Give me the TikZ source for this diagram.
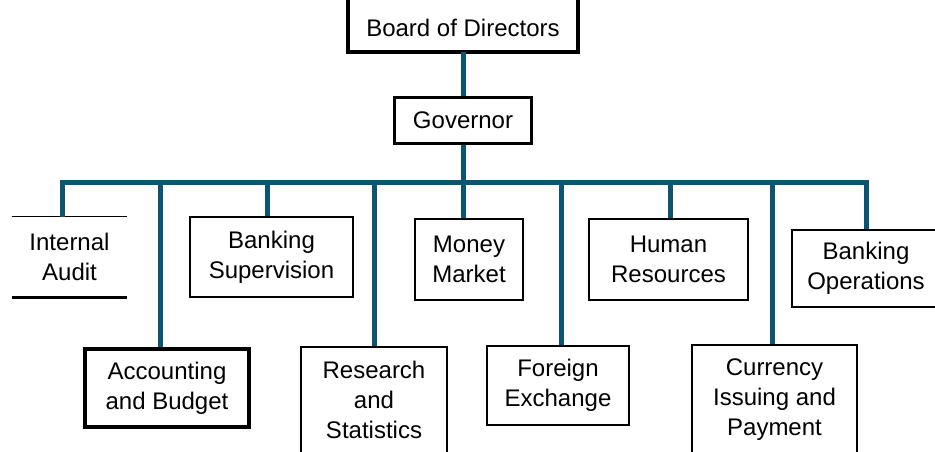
\documentclass[tikz,border=0pt]{standalone}
\usepackage{fontspec}
\setmainfont{Liberation Sans}
\definecolor{orgline}{HTML}{0B5573}
\begin{document}
\begin{tikzpicture}[x=0.75pt,y=-0.75pt,
  unit/.style={rectangle, inner sep=0pt, align=center, text=black,
    font=\fontsize{18}{22.5}\selectfont},
  dims/.style 2 args={minimum width=#1*0.75pt, minimum height=#2*0.75pt},
  frame/.style={draw=black, line width=#1*0.75pt},
  link/.style={draw=orgline, line width=3.75pt},
]
\useasboundingbox (0,0) rectangle (935,451);
\clip (0,0) rectangle (935,451);

% top of the hierarchy
\node[unit, dims={230}{48}] (board) at (463,28) {Board of Directors};
\node[unit, dims={137}{46}, frame=3] (gov) at (463,120) {Governor};

% departments, upper row
\node[unit, dims={115}{80}] (ia) at (69.5,257) {Internal\\Audit};
\node[unit, dims={163}{80}, frame=2] (bs) at (271.5,257) {Banking\\Supervision};
\node[unit, dims={108}{81}, frame=2] (mm) at (469,259.5) {Money\\Market};
\node[unit, dims={159}{81}, frame=2] (hr) at (668.5,259.5) {Human\\Resources};
\node[unit, dims={148}{77}, frame=2.5] (bo) at (866,268.5) {Banking\\Operations};

% departments, lower row
\node[unit, dims={164}{78}, frame=4] (acc) at (167,388) {Accounting\\and Budget};
\node[unit, dims={146}{106}, frame=2] (rs) at (374,400) {Research\\and\\Statistics};
\node[unit, dims={142}{79}, frame=2.5] (fe) at (558,385.5) {Foreign\\Exchange};
\node[unit, dims={165}{110}, frame=2] (cu) at (774.5,400) {Currency\\Issuing and\\Payment};

% open frames: the board frame is cut by the top edge
\coordinate (edge) at (463,0);
\draw[line width=3pt, line join=miter] (board.west |- edge) -- (board.south west)
  -- (board.south east) -- (board.east |- edge);
\draw[line width=1.1pt] (ia.north west) -- (ia.north east);
\draw[line width=2.6pt] (ia.south west) -- (ia.south east);

% bus taps
\coordinate (d1) at (62,182);
\coordinate (d2) at (160,182);
\coordinate (d3) at (267,182);
\coordinate (d4) at (374,182);
\coordinate (d5) at (463,182);
\coordinate (d6) at (561,182);
\coordinate (d7) at (670,182);
\coordinate (d8) at (772,182);
\coordinate (d9) at (866,182);

% connectors
\draw[link] (board.south) -- (gov.north);
\draw[link] (gov.south) -- (d5);
\draw[link, line join=miter] (ia.north -| d1) -- (d1) -- (d9) -- (bo.north -| d9);
\draw[link] (d2) -- (acc.north -| d2);
\draw[link] (d3) -- (bs.north -| d3);
\draw[link] (d4) -- (rs.north -| d4);
\draw[link] (d5) -- (mm.north -| d5);
\draw[link] (d6) -- (fe.north -| d6);
\draw[link] (d7) -- (hr.north -| d7);
\draw[link] (d8) -- (cu.north -| d8);
\end{tikzpicture}
\end{document}
